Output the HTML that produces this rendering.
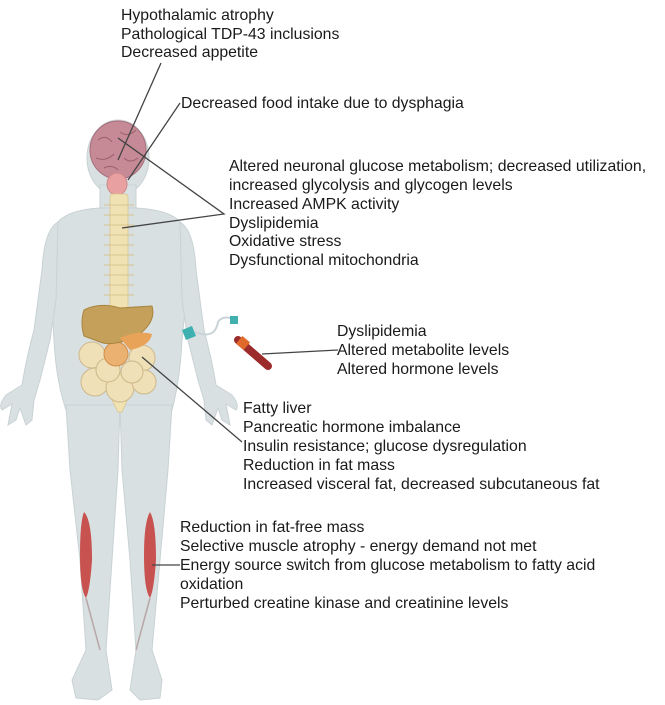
<!DOCTYPE html>
<html><head><meta charset="utf-8"><style>
html,body{margin:0;padding:0;background:#fff;width:665px;height:705px;overflow:hidden}
svg{display:block}
text{font-family:"Liberation Sans",sans-serif;font-size:15.8px;fill:#1a1a1a}
</style></head><body>
<svg width="665" height="705" viewBox="0 0 665 705">
<g fill="#d8e0e2" stroke="#c9d2d4" stroke-width="1">
<ellipse cx="118" cy="158" rx="31" ry="38"/>
<rect x="100" y="185" width="36" height="35"/>
<path d="M58 222 Q68 210 100 208 L136 208 Q170 210 180 222 Q188 240 186 300 L182 340 Q180 380 172 410 L66 410 Q56 380 54 340 L52 300 Q50 240 58 222Z"/>
<path d="M58 222 Q44 230 42 270 L34 330 Q26 360 22 385 L6 395 Q-2 405 2 410 L12 404 L8 425 L16 420 L20 408 L26 425 L32 420 L34 400 L40 380 L50 340 L56 300Z"/>
<path d="M180 222 Q194 230 196 270 L204 330 Q212 360 216 385 L232 395 Q240 405 236 410 L226 404 L230 425 L222 420 L218 408 L212 425 L206 420 L204 400 L198 380 L188 340 L182 300Z"/>
<path d="M66 405 L120 405 L118 470 L112 560 L106 650 L112 690 L98 700 L76 698 L72 680 L86 650 L80 560 L70 470Z"/>
<path d="M120 405 L172 405 L168 470 L160 560 L152 650 L162 680 L160 698 L140 700 L130 690 L136 650 L130 560 L122 470Z"/>
</g>
<ellipse cx="118" cy="150" rx="28" ry="29" fill="#c58a96" stroke="#a7707c"/>
<path d="M98 140 q8 -6 14 2 M120 132 q8 6 16 -2 M96 158 q10 4 18 -4 M124 158 q6 6 14 0 M104 168 q8 -4 14 2" stroke="#9b5f6c" fill="none"/>
<ellipse cx="117" cy="184" rx="10" ry="11" fill="#e8a0a0" stroke="#c88"/>
<g fill="#f1e2b4" stroke="#d8c58e" stroke-width="0.8">
<rect x="110" y="194" width="18" height="115" rx="3"/>
<path d="M98 372 L140 372 L122 412 L118 412Z"/>
</g>
<g stroke="#d8c58e" stroke-width="1">
<path d="M104 205h30M104 215h30M104 225h30M104 235h30M104 245h30M104 255h30M104 265h30M104 275h30M104 285h30M104 295h30"/>
</g>
<g fill="#f0e0b8" stroke="#cdb88a">
<circle cx="92" cy="355" r="13"/><circle cx="142" cy="358" r="13"/>
<circle cx="95" cy="382" r="14"/><circle cx="120" cy="388" r="14"/><circle cx="144" cy="382" r="12"/>
<circle cx="108" cy="370" r="12"/><circle cx="132" cy="372" r="11"/>
</g>
<circle cx="116" cy="354" r="12" fill="#ebb170" stroke="#d08e4c"/>
<path d="M84 310 Q100 302 120 308 L152 306 Q156 320 142 332 L128 340 Q110 346 100 342 L84 336 Q80 322 84 310Z" fill="#c4a05a" stroke="#a8843d"/>
<path d="M120 338 Q138 330 152 334 Q150 346 130 350Z" fill="#e9a358"/>
<path d="M84 512 Q92 520 92 560 Q90 590 86 598 Q80 590 80 555 Q80 522 84 512Z" fill="#c8524f"/>
<path d="M150 512 Q156 522 156 560 Q154 590 150 598 Q144 590 144 555 Q144 522 150 512Z" fill="#c8524f"/>
<path d="M86 598 L100 650 M150 598 L136 650" stroke="#b9a6a6" stroke-width="1.5"/>
<path d="M182 330 L192 326 L196 336 L186 340Z" fill="#3fb0b0"/>
<path d="M195 332 Q215 340 218 322 Q222 316 230 318" stroke="#c9d4d8" stroke-width="2" fill="none"/>
<rect x="230" y="316" width="8" height="8" fill="#3fb0b0"/>
<path d="M238 340 L268 366" stroke="#9c2b2b" stroke-width="8" stroke-linecap="round"/>
<rect x="238" y="338" width="10" height="10" fill="#e0692c" transform="rotate(40 243 343)"/>
<g stroke="#444" stroke-width="1.3" fill="none">
<path d="M161 63 L118 160"/>
<path d="M180 103 L128 180"/>
<path d="M118 138 L224 214 L122 228"/>
<path d="M262 354 L338 350"/>
<path d="M142 357 L242 442"/>
<path d="M152 565 L180 565"/>
</g>
<text x="121" y="20">Hypothalamic atrophy</text>
<text x="121" y="39">Pathological TDP-43 inclusions</text>
<text x="121" y="57">Decreased appetite</text>
<text x="181" y="108">Decreased food intake due to dysphagia</text>
<text x="229" y="171">Altered neuronal glucose metabolism; decreased utilization,</text>
<text x="229" y="190">increased glycolysis and glycogen levels</text>
<text x="229" y="209">Increased AMPK activity</text>
<text x="229" y="228">Dyslipidemia</text>
<text x="229" y="246">Oxidative stress</text>
<text x="229" y="265">Dysfunctional mitochondria</text>
<text x="337" y="336">Dyslipidemia</text>
<text x="337" y="355">Altered metabolite levels</text>
<text x="337" y="374">Altered hormone levels</text>
<text x="243" y="413">Fatty liver</text>
<text x="243" y="432">Pancreatic hormone imbalance</text>
<text x="243" y="451">Insulin resistance; glucose dysregulation</text>
<text x="243" y="470">Reduction in fat mass</text>
<text x="243" y="489">Increased visceral fat, decreased subcutaneous fat</text>
<text x="180" y="532">Reduction in fat-free mass</text>
<text x="180" y="551">Selective muscle atrophy - energy demand not met</text>
<text x="180" y="570">Energy source switch from glucose metabolism to fatty acid</text>
<text x="180" y="589">oxidation</text>
<text x="180" y="608">Perturbed creatine kinase and creatinine levels</text>
</svg>
</body></html>
